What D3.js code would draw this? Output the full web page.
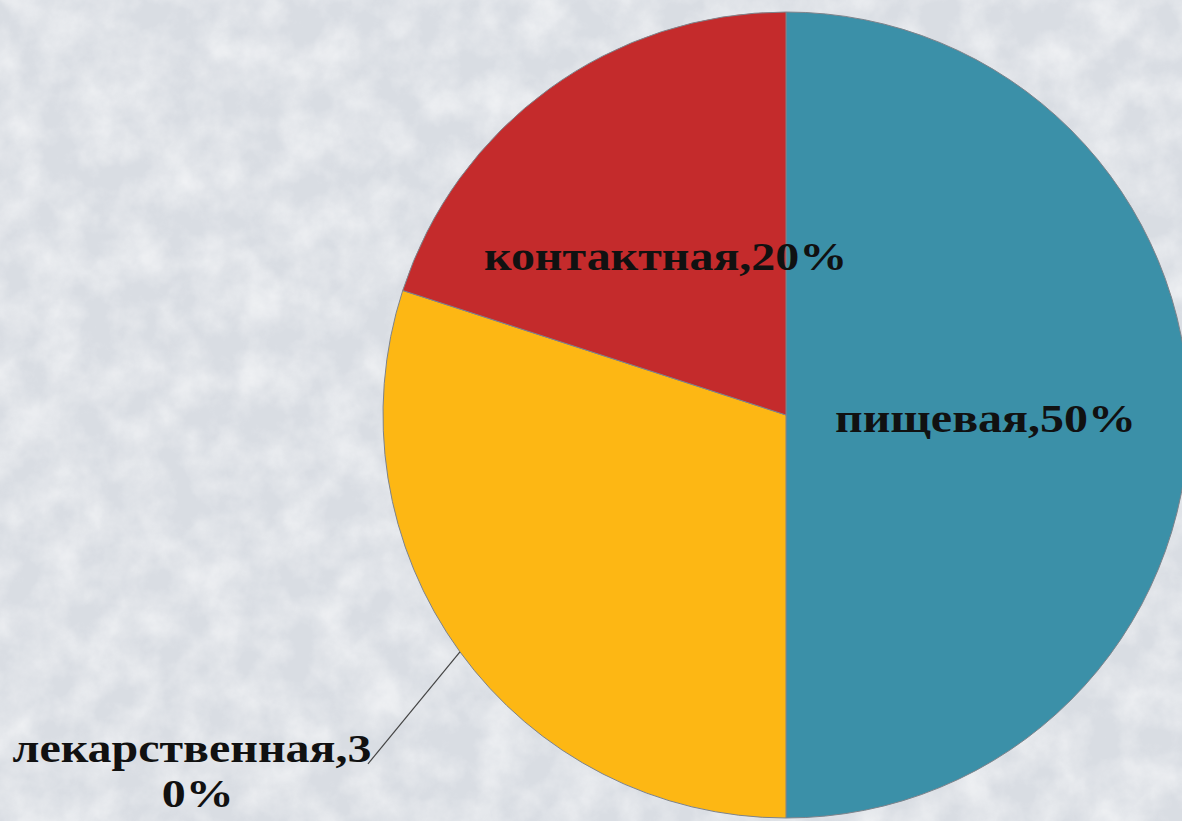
<!DOCTYPE html>
<html>
<head>
<meta charset="utf-8">
<script src="https://cdn.jsdelivr.net/npm/d3@7"></script>
<style>
  html, body { margin: 0; padding: 0; }
  body { width: 1182px; height: 821px; overflow: hidden; background: #dfe3e8; }
  svg { display: block; }
</style>
</head>
<body>
<div id="chart"></div>
<script>
/* Pie chart - allergy types */

const categories = ["пищевая", "лекарственная", "контактная"];
const values = [50, 30, 20];
const labels = ["пищевая,50%", "лекарственная,3|0%", "контактная,20%"];
const colors = ["#3b90a8", "#fdb714", "#c42b2c"];

const width = 1182,
    height = 821,
    cx = 786,
    cy = 415,
    radius = 403;

const data = categories.map((c, i) => ({ name: c, value: values[i], label: labels[i], color: colors[i] }));

const svg = d3.select("#chart")
    .append("svg")
    .attr("width", width)
    .attr("height", height);

// snowy textured background
const defs = svg.append("defs");
const filt = defs.append("filter").attr("id", "tex").attr("x", 0).attr("y", 0).attr("width", "100%").attr("height", "100%");
filt.append("feTurbulence")
    .attr("type", "fractalNoise")
    .attr("baseFrequency", 0.025)
    .attr("numOctaves", 5)
    .attr("seed", 7)
    .attr("result", "noise");
filt.append("feColorMatrix")
    .attr("in", "noise")
    .attr("type", "matrix")
    .attr("values", "0 0 0 0 1  0 0 0 0 1  0 0 0 0 1  0 0 0 1.4 -0.45");

svg.append("rect").attr("width", width).attr("height", height).attr("fill", "#d9dde3");
svg.append("rect").attr("width", width).attr("height", height).attr("fill", "#fafbfc").attr("filter", "url(#tex)").attr("opacity", 0.7);

const pie = d3.pie()
    .sort(null)
    .value(d => d.value);

const arc = d3.arc()
    .innerRadius(0)
    .outerRadius(radius);

const arcs = pie(data);

const g = svg.append("g")
    .attr("transform", `translate(${cx},${cy})`);

g.selectAll("path")
    .data(arcs)
    .join("path")
      .attr("d", arc)
      .attr("fill", d => d.data.color)
      .attr("stroke", "#7d838b")
      .attr("stroke-width", 1);

const font = "'Liberation Serif', 'Times New Roman', serif";
const fontSize = "41px",
    stretch = 1.17;

// labels inside slices
g.selectAll(".inlabel")
    .data(arcs.filter(d => d.data.name !== "лекарственная"))
    .join("text")
      .attr("class", "inlabel")
      .attr("transform", d => {
        const [x, y] = arc.centroid(d);
        return `translate(${x - 2},${y + (d.data.name === "контактная" ? 18 : 17)}) scale(${stretch},1)`;
      })
      .attr("text-anchor", "middle")
      .style("font-family", font)
      .style("font-weight", "bold")
      .style("font-size", fontSize)
      .style("fill", "#111")
      .text(d => d.data.label);

// outside label with leader line
const outer = arcs.find(d => d.data.name === "лекарственная");
const mid = (outer.startAngle + outer.endAngle) / 2;
const p0 = [Math.sin(mid) * radius, -Math.cos(mid) * radius];
const p1 = [p0[0] - 92, p0[1] + 112];

g.append("line")
    .attr("x1", p0[0]).attr("y1", p0[1])
    .attr("x2", p1[0]).attr("y2", p1[1])
    .attr("stroke", "#444")
    .attr("stroke-width", 1.2);

const parts = outer.data.label.split("|");
const t = g.append("g")
    .attr("transform", `translate(${p1[0] - 176},${p1[1]}) scale(${stretch},1)`)
    .append("text")
    .attr("text-anchor", "middle")
    .style("font-family", font)
    .style("font-weight", "bold")
    .style("font-size", fontSize)
    .style("fill", "#111");
t.append("tspan")
    .attr("x", 0)
    .attr("y", -2)
    .text(parts[0]);
t.append("tspan")
    .attr("x", 5)
    .attr("y", 43)
    .text(parts[1]);
</script>
</body>
</html>
